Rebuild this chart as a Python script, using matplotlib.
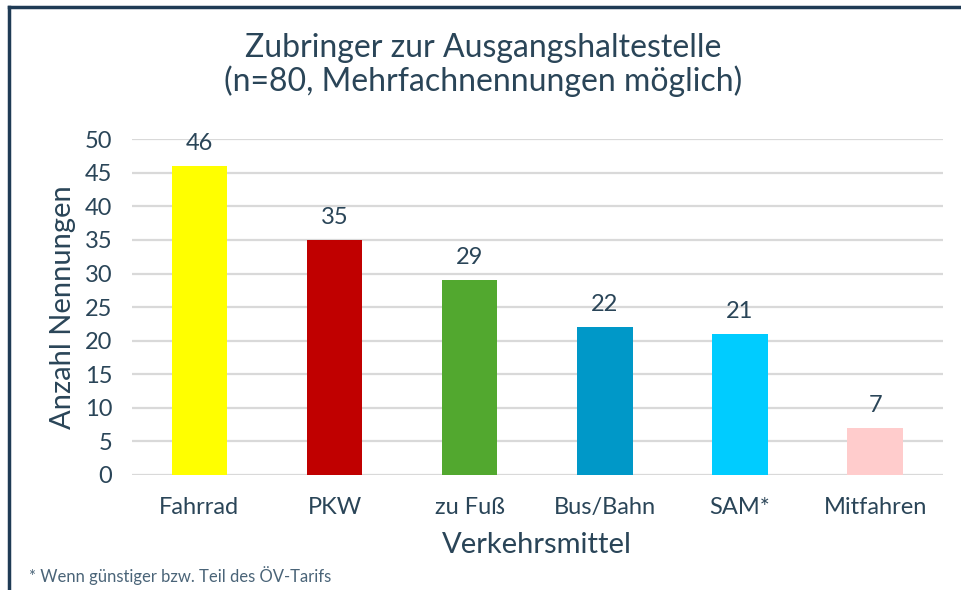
import matplotlib
matplotlib.use("Agg")
import matplotlib.pyplot as plt
from matplotlib.lines import Line2D

# Daten
kategorien = ["Fahrrad", "PKW", "zu Fuß", "Bus/Bahn", "SAM*", "Mitfahren"]
nennungen = [46, 35, 29, 22, 21, 7]
farben = ["#FFFF00", "#C00000", "#52A82F", "#0098C8", "#00CCFF", "#FFCCCC"]
y_ticks = [0, 5, 10, 15, 20, 25, 30, 35, 40, 45, 50]

textfarbe = "#2A4558"
plt.rcParams['font.family'] = ['Lato', 'DejaVu Sans']

fig = plt.figure(figsize=(9.62, 5.90), dpi=100)
ax = fig.add_axes([0.137, 0.195, 0.843, 0.569])

x = range(len(kategorien))
bars = ax.bar(x, nennungen, width=0.41, color=farben, zorder=3)

# Werte ueber den Balken
for b, v in zip(bars, nennungen):
    ax.text(b.get_x() + b.get_width() / 2, v + 1.8, str(v),
            ha='center', va='bottom', fontsize=17, color=textfarbe)

ax.set_xlim(-0.5, len(kategorien) - 0.5)
ax.set_ylim(0, 50)
ax.set_yticks(y_ticks)
ax.set_xticks(list(x))
ax.set_xticklabels(kategorien)
ax.tick_params(axis='both', length=0, labelsize=17, labelcolor=textfarbe)
ax.tick_params(axis='x', pad=16)
ax.tick_params(axis='y', pad=14)
ax.grid(axis='y', color='#D9D9D9', linewidth=1.6, zorder=0)
for s in ax.spines.values():
    s.set_visible(False)

ax.set_ylabel("Anzahl Nennungen", fontsize=21, color=textfarbe, labelpad=6)
ax.set_xlabel("Verkehrsmittel", fontsize=21, color=textfarbe, labelpad=10)

fig.text(0.502, 0.89, "Zubringer zur Ausgangshaltestelle\n(n=80, Mehrfachnennungen möglich)",
         ha='center', va='center', fontsize=23, color=textfarbe, linespacing=1.12)

fig.text(0.030, 0.025, "* Wenn günstiger bzw. Teil des ÖV-Tarifs",
         ha='left', va='center', fontsize=12, color='#4A6478')

# Rahmen oben und links
fig.add_artist(Line2D([0.0095, 1.0], [0.988, 0.988], color='#1F3B55', linewidth=2.5,
                      transform=fig.transFigure))
fig.add_artist(Line2D([0.0095, 0.0095], [0.0, 0.988], color='#1F3B55', linewidth=2.5,
                      transform=fig.transFigure))

fig.savefig("out.png", dpi=100)
